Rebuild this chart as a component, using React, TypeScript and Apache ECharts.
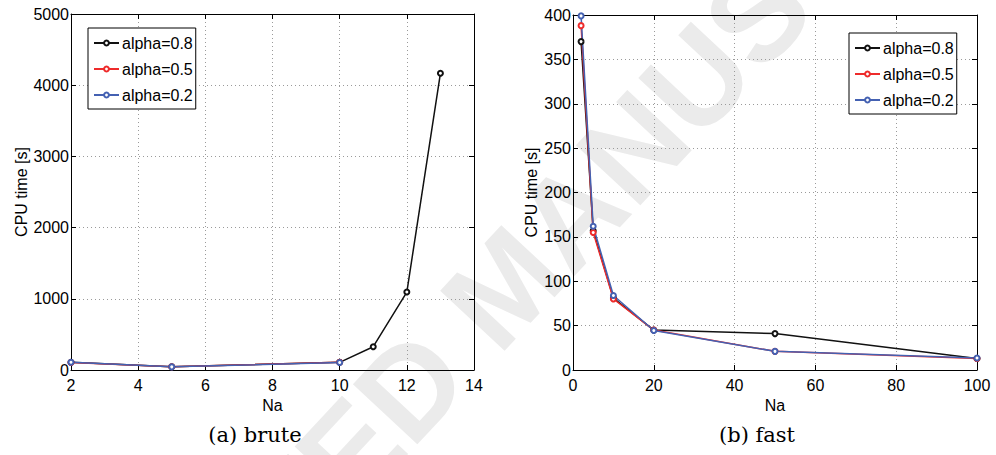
import React, { useEffect, useRef } from "react";
import * as echarts from "echarts";

// ---- data ----
const seriesNames = ["alpha=0.8", "alpha=0.5", "alpha=0.2"];
const seriesColors = ["#111111", "#ee2b2b", "#4461b2"];

// (a) brute
const bruteX08 = [2, 5, 10, 11, 12, 13];
const bruteY08 = [108, 46, 108, 327, 1095, 4167];
const bruteX05 = [2, 5, 10];
const bruteY05 = [106, 45, 110];
const bruteX02 = [2, 5, 10];
const bruteY02 = [108, 44, 106];

// (b) fast
const fastX = [2, 5, 10, 20, 50, 100];
const fastY08 = [370, 157, 81, 45, 41, 13];
const fastY05 = [388, 155, 80, 45, 21, 13];
const fastY02 = [399, 162, 84, 44.5, 21, 13.5];

const captions = ["(a) brute", "(b) fast"];
const xName = "Na";
const yName = "CPU time [s]";
const watermark = "ACCEPTED MANUSCRIPT";

const pair = (xs: number[], ys: number[]) => xs.map((x, i) => [x, ys[i]]);

const FONT = "'Liberation Sans', Arial, Helvetica, sans-serif";

export default function App() {
  const ref = useRef<HTMLDivElement>(null);
  useEffect(() => {
    if (!ref.current) return;
    const chart = echarts.init(ref.current, null, { renderer: "svg" });

    const grids = [
      { left: 71, right: 522, top: 14, bottom: 85 },
      { left: 573, right: 19, top: 15, bottom: 85 },
    ];
    const xRanges = [
      { min: 2, max: 14, interval: 2 },
      { min: 0, max: 100, interval: 20 },
    ];
    const yRanges = [
      { min: 0, max: 5000, interval: 1000 },
      { min: 0, max: 400, interval: 50 },
    ];
    const yNameGaps = [42, 34];
    const plain = (v: number) => String(v);

    const xAxes: any[] = [];
    const yAxes: any[] = [];
    [0, 1].forEach((g) => {
      xAxes.push({
        type: "value",
        gridIndex: g,
        ...xRanges[g],
        position: "bottom",
        name: xName,
        nameLocation: "middle",
        nameGap: 24,
        nameTextStyle: { fontSize: 16, fontFamily: FONT, color: "#000" },
        axisLine: { show: true, onZero: false, lineStyle: { color: "#000", width: 1 } },
        axisTick: { show: true, inside: true, length: 5, lineStyle: { color: "#000" } },
        axisLabel: { fontSize: 16, fontFamily: FONT, color: "#000", margin: 7, formatter: plain },
        splitLine: { show: true, lineStyle: { color: "#9a9a9a", type: [1, 3], width: 1 } },
        z: 1,
      });
      xAxes.push({
        type: "value",
        gridIndex: g,
        ...xRanges[g],
        position: "top",
        axisLine: { show: true, onZero: false, lineStyle: { color: "#000", width: 1 } },
        axisTick: { show: true, inside: true, length: 5, lineStyle: { color: "#000" } },
        axisLabel: { show: false },
        splitLine: { show: false },
        z: 1,
      });
      yAxes.push({
        type: "value",
        gridIndex: g,
        ...yRanges[g],
        position: "left",
        name: yName,
        nameLocation: "middle",
        nameGap: yNameGaps[g],
        nameTextStyle: { fontSize: 16, fontFamily: FONT, color: "#000" },
        axisLine: { show: true, onZero: false, lineStyle: { color: "#000", width: 1 } },
        axisTick: { show: true, inside: true, length: 5, lineStyle: { color: "#000" } },
        axisLabel: { fontSize: 16, fontFamily: FONT, color: "#000", margin: 2, formatter: plain },
        splitLine: { show: true, lineStyle: { color: "#9a9a9a", type: [1, 3], width: 1 } },
        z: 1,
      });
      yAxes.push({
        type: "value",
        gridIndex: g,
        ...yRanges[g],
        position: "right",
        axisLine: { show: true, onZero: false, lineStyle: { color: "#000", width: 1 } },
        axisTick: { show: true, inside: true, length: 5, lineStyle: { color: "#000" } },
        axisLabel: { show: false },
        splitLine: { show: false },
        z: 1,
      });
    });

    const mk = (name: string, color: string, data: number[][], axisIdx: number) => ({
      type: "line",
      name,
      xAxisIndex: axisIdx,
      yAxisIndex: axisIdx,
      data,
      symbol: "emptyCircle",
      symbolSize: 5,
      showSymbol: true,
      lineStyle: { color, width: 1.5 },
      itemStyle: { color, borderColor: color, borderWidth: 1.5 },
      z: 3,
    });

    const series = [
      mk(seriesNames[0], seriesColors[0], pair(bruteX08, bruteY08), 0),
      mk(seriesNames[1], seriesColors[1], pair(bruteX05, bruteY05), 0),
      mk(seriesNames[2], seriesColors[2], pair(bruteX02, bruteY02), 0),
      mk(seriesNames[0], seriesColors[0], pair(fastX, fastY08), 2),
      mk(seriesNames[1], seriesColors[1], pair(fastX, fastY05), 2),
      mk(seriesNames[2], seriesColors[2], pair(fastX, fastY02), 2),
    ];

    const legendBase = {
      data: seriesNames,
      orient: "vertical",
      backgroundColor: "#fff",
      borderColor: "#000",
      borderWidth: 1,
      borderRadius: 0,
      padding: [7, 3, 6, 5],
      itemGap: 10,
      itemWidth: 25,
      itemHeight: 6,
      selectedMode: false,
      textStyle: { fontSize: 16, fontFamily: FONT, color: "#000", padding: [0, 0, 0, -2] },
      z: 10,
    };

    chart.setOption({
      animation: false,
      backgroundColor: "#fff",
      grid: grids,
      xAxis: xAxes,
      yAxis: yAxes,
      legend: [
        { ...legendBase, left: 88, top: 28 },
        { ...legendBase, left: 849, top: 33 },
      ],
      series,
      graphic: [
        {
          type: "text",
          x: 505,
          y: 285,
          rotation: 0.82,
          z: -10,
          silent: true,
          style: {
            text: watermark,
            fontSize: 128,
            fontWeight: "bold",
            fontFamily: FONT,
            fill: "#ebebeb",
            align: "center",
            verticalAlign: "middle",
          },
        },
        {
          type: "text",
          x: 255,
          y: 435,
          style: {
            text: captions[0],
            fontSize: 21,
            fontFamily: "'DejaVu Serif', serif",
            fill: "#000",
            align: "center",
            verticalAlign: "middle",
          },
        },
        {
          type: "text",
          x: 757,
          y: 435,
          style: {
            text: captions[1],
            fontSize: 21,
            fontFamily: "'DejaVu Serif', serif",
            fill: "#000",
            align: "center",
            verticalAlign: "middle",
          },
        },
      ],
    });
    return () => chart.dispose();
  }, []);
  return (
    <div
      ref={ref}
      style={{ position: "fixed", left: 0, top: 0, width: 996, height: 455 }}
    />
  );
}
